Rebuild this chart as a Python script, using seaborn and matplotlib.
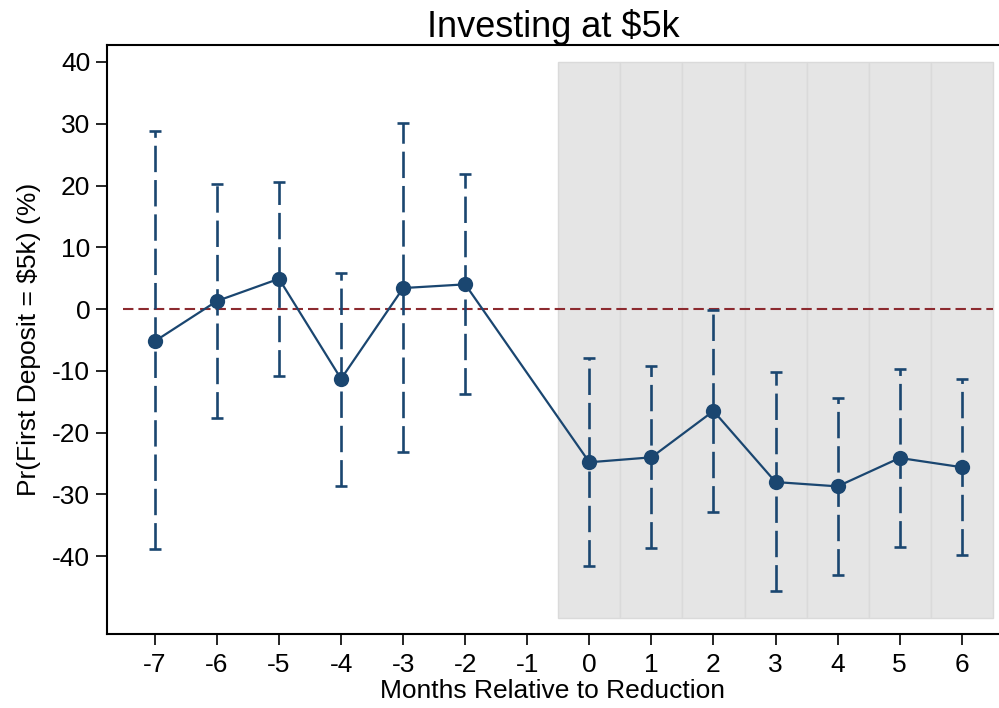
import numpy as np
import pandas as pd
import matplotlib
matplotlib.use("Agg")
import matplotlib.pyplot as plt
import seaborn as sns

# Event-study estimates (percentage points) with 95% confidence bounds
months = [-7, -6, -5, -4, -3, -2, 0, 1, 2, 3, 4, 5, 6]
estimate = [-5.2, 1.3, 4.9, -11.3, 3.4, 4.0, -24.8, -24.0, -16.5, -28.0, -28.7, -24.1, -25.6]
ci_high = [28.8, 20.2, 20.6, 5.8, 30.1, 21.9, -7.9, -9.2, -0.2, -10.2, -14.4, -9.7, -11.3]
ci_low = [-38.9, -17.7, -10.8, -28.7, -23.2, -13.8, -41.6, -38.7, -32.9, -45.7, -43.1, -38.5, -39.8]

# Post-reduction window shaded month by month
post_months = [0, 1, 2, 3, 4, 5, 6]
shade_bottom = -50
shade_top = 40

x_ticks = list(range(-7, 7))
y_ticks = [40, 30, 20, 10, 0, -10, -20, -30, -40]

df = pd.DataFrame({"month": months, "estimate": estimate,
                   "ci_high": ci_high, "ci_low": ci_low})

sns.set_theme(style="white")
plt.rcParams["font.family"] = ["Liberation Sans", "DejaVu Sans"]

navy = "#1a4670"
fig = plt.figure(figsize=(9.99, 7.08), dpi=100)
ax = fig.add_axes([0.107, 0.1045, 0.893, 0.832])

ax.bar(post_months, [shade_top - shade_bottom] * len(post_months), width=1.0,
       bottom=shade_bottom, color="#e5e5e5", edgecolor="#dadada", linewidth=1.0,
       zorder=0)

ax.axhline(0, xmin=0.0185, xmax=0.993, color="#8c2a2f", lw=1.5,
           dashes=(5, 2.4), zorder=1)

eb = ax.errorbar(df["month"], df["estimate"],
                 yerr=[df["estimate"] - df["ci_low"], df["ci_high"] - df["estimate"]],
                 fmt="none", ecolor=navy, elinewidth=1.9, capsize=4.5,
                 capthick=1.9, zorder=2)
eb[2][0].set_linestyle((0, (10, 3)))

sns.lineplot(data=df, x="month", y="estimate", color=navy, lw=1.6,
             marker="o", markersize=11, markeredgecolor=navy,
             markeredgewidth=0, ax=ax, zorder=3)

ax.set_xlim(-7.773, 6.6)
ax.set_ylim(-52.6, 42.75)
ax.set_xticks(x_ticks)
ax.set_yticks(y_ticks)
ax.set_xticklabels([str(t) for t in x_ticks])
ax.set_yticklabels([str(t) for t in y_ticks])

for side in ("top", "left", "bottom"):
    ax.spines[side].set_visible(True)
    ax.spines[side].set_color("black")
    ax.spines[side].set_linewidth(1.5)
ax.spines["right"].set_visible(False)

ax.tick_params(axis="both", direction="out", length=8, width=1.2,
               color="black", labelsize=19, labelcolor="black",
               left=True, bottom=True)
ax.tick_params(axis="y", pad=4)
ax.tick_params(axis="x", pad=6)

ax.set_xlabel("Months Relative to Reduction", fontsize=19, color="black",
              labelpad=1)
ax.set_ylabel("Pr(First Deposit = $5k) (%)", fontsize=19, color="black",
              labelpad=8)
ax.set_title("Investing at $5k", fontsize=26, color="black", pad=6)

fig.savefig("out.png", dpi=100)
